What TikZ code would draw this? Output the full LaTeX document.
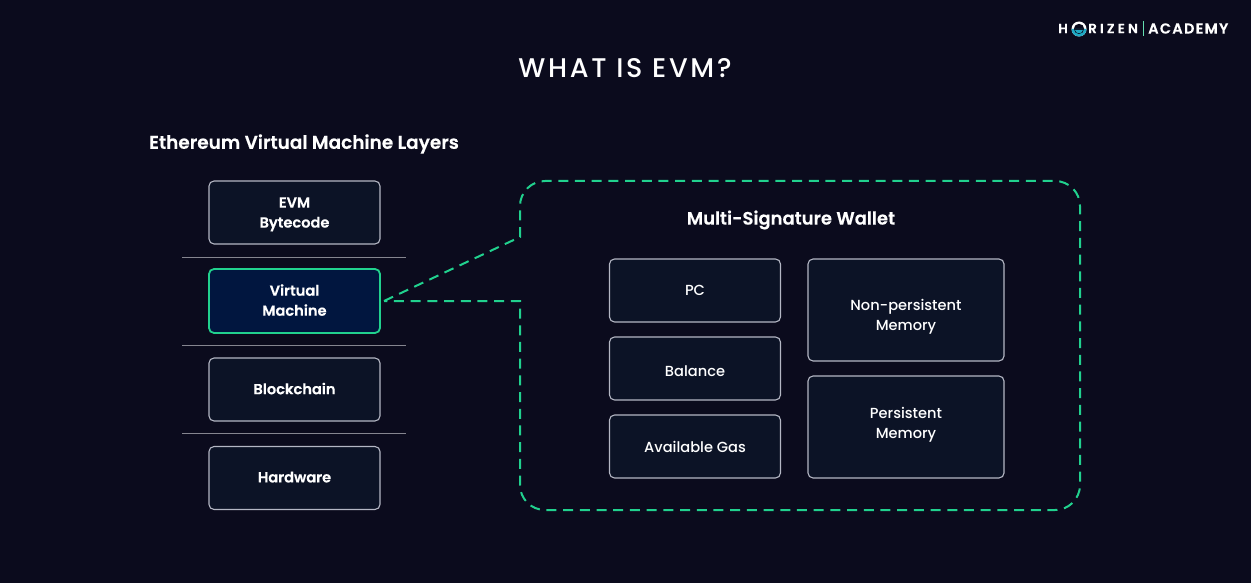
\documentclass[tikz,border=0pt]{standalone}
\usepackage{fontspec}
\setmainfont{Poppins Medium}[BoldFont=Poppins SemiBold,BoldFeatures={FakeBold=0.3}]
\definecolor{page_bg}{HTML}{0B0B1D}
\definecolor{box_fill}{HTML}{0C1326}
\definecolor{box_line}{HTML}{B4B7C4}
\definecolor{vm_fill}{HTML}{01163F}
\definecolor{mint}{HTML}{21D18E}
\definecolor{rule_line}{HTML}{85858F}
\definecolor{logo_teal}{HTML}{1FA9C4}
\begin{document}
\begin{tikzpicture}[x=1pt,y=-1pt,
	layer_node/.style={draw=box_line,fill=box_fill,rounded corners=5pt,line width=1.1pt,minimum width=171pt,minimum height=63pt,inner sep=0pt,align=center,text=white,font=\fontsize{14.6}{20}\selectfont\bfseries},
	vm_node/.style={layer_node,draw=mint,fill=vm_fill,line width=1.8pt,minimum height=64pt},
	part_node/.style={layer_node,font=\fontsize{14.6}{20}\selectfont},
	mem_node/.style={part_node,minimum width=196pt,minimum height=102pt},
	head_node/.style={inner sep=0pt,text=white},
	logo_node/.style={inner sep=0pt,text=white,font=\fontsize{13.5}{14}\selectfont\bfseries}]

	\fill[page_bg] (0,0) rectangle (1251,583);

	\node[head_node,font=\fontsize{27}{30}\selectfont\addfontfeature{LetterSpace=10}] (title) at (625,68) {WHAT IS EVM?};
	\node[head_node,font=\fontsize{18.5}{24}\selectfont\bfseries] (layers) at (304,144) {Ethereum Virtual Machine Layers};
	\node[head_node,font=\fontsize{18}{24}\selectfont\bfseries] (wallet) at (791,220) {Multi-Signature Wallet};

	% left stack
	\node[layer_node] (evm) at (294.5,212.5) {\rule{0pt}{14pt}EVM\\Bytecode};
	\node[vm_node] (vm) at (294.5,301) {Virtual\\Machine\rule[-2pt]{0pt}{0pt}};
	\node[layer_node] (chain) at (294.5,389.5) {Blockchain\rule[-2pt]{0pt}{0pt}};
	\node[layer_node] (hw) at (294.5,478) {Hardware\rule[-2pt]{0pt}{0pt}};

	\coordinate (r1a) at (182,257.5);
	\coordinate (r1b) at (406,257.5);
	\coordinate (r2a) at (182,345.5);
	\coordinate (r2b) at (406,345.5);
	\coordinate (r3a) at (182,433.5);
	\coordinate (r3b) at (406,433.5);
	\draw[rule_line,line width=1.2pt] (r1a) -- (r1b);
	\draw[rule_line,line width=1.2pt] (r2a) -- (r2b);
	\draw[rule_line,line width=1.2pt] (r3a) -- (r3b);

	% inside the wallet
	\node[part_node] (pc) at (695,290.5) {PC};
	\node[part_node] (balance) at (695,368.5) {\rule{0pt}{16pt}Balance};
	\node[part_node] (gas) at (695,446.5) {Available Gas};
	\node[mem_node] (nonpers) at (906,310) {\rule{0pt}{25pt}Non-persistent\\Memory};
	\node[mem_node] (pers) at (906,427) {Persistent\\Memory\rule[-8pt]{0pt}{0pt}};

	% callout
	\coordinate (tip) at (384,301);
	\coordinate (c1) at (520,237);
	\coordinate (c2) at (520,181);
	\coordinate (c3) at (1080,181);
	\coordinate (c4) at (1080,510);
	\coordinate (c5) at (520,510);
	\coordinate (c6) at (520,301);
	\draw[mint,line width=2pt,dash pattern=on 10pt off 6.7pt]
		(tip) -- (c1)
		[rounded corners=25pt] -- (c2) -- (c3) -- (c4) -- (c5)
		[sharp corners] -- (c6) -- (tip);

	% logo
	\node[logo_node,anchor=west] (logo_h) at (1058,28.5) {H};
	\coordinate (logo_o) at (1079,29);
	\fill[white] (logo_o) circle (7.5pt);
	\fill[page_bg] (logo_o) circle (5.2pt);
	\fill[logo_teal] (logo_o) ++(-7.5,0) arc[start angle=180,end angle=360,radius=7.5pt] -- cycle;
	\fill[page_bg] (logo_o) ++(-5,0) arc[start angle=180,end angle=360,radius=5pt] -- cycle;
	\fill[logo_teal] (logo_o) ++(-4,1) arc[start angle=190,end angle=350,radius=4pt] -- cycle;
	\node[logo_node,anchor=west,font=\fontsize{13.5}{14}\selectfont\bfseries\addfontfeature{LetterSpace=23}] (logo_r) at (1088,28.5) {RIZEN};
	\node[logo_node,anchor=west,font=\fontsize{14.5}{14}\selectfont\bfseries\addfontfeature{LetterSpace=9}] (logo_a) at (1148,28.5) {ACADEMY};
	\coordinate (bar_a) at (1143.5,21);
	\coordinate (bar_b) at (1143.5,36);
	\draw[mint!70!white,line width=0.7pt] (bar_a) -- (bar_b);
\end{tikzpicture}
\end{document}
